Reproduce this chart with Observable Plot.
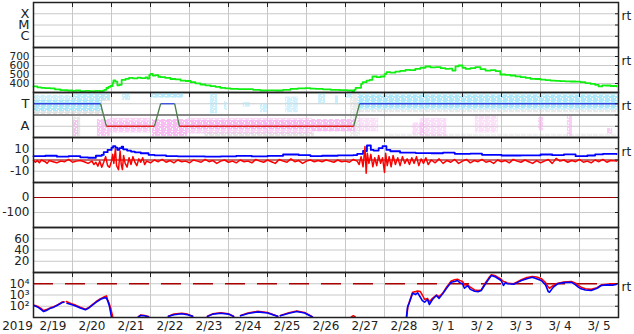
<!DOCTYPE html>
<html><head><meta charset="utf-8">
<script src="https://cdn.jsdelivr.net/npm/d3@7"></script>
<script src="https://cdn.jsdelivr.net/npm/@observablehq/plot@0.6"></script>
<style>
body{margin:0;background:#fff;}
#chart svg{display:block;overflow:visible;}
</style></head><body><div id="chart"></div>
<script>
// ---------- data (time = days after 2019-02-19 00:00 UTC) ----------
const dayLabels = ["2/19","2/20","2/21","2/22","2/23","2/24","2/25","2/26","2/27","2/28","3/ 1","3/ 2","3/ 3","3/ 4","3/ 5"];
const yearLabel = "2019";
const xrayTicks = [1e-6, 1e-5, 1e-4];
const xrayLabels = ["C", "M", "X"];
const speedTicks = [400, 500, 600, 700];
const sectorTicks = [1, 0, -1];
const sectorLabels = ["T", "", "A"];
const bTicks = [10, 0, -10];
const dstTicks = [0, -100];
const kpTicks = [20, 40, 60];
const fluxTicks = [1e2, 1e3, 1e4];
const fluxLabels = ["10²", "10³", "10⁴"];

const speed = [[0,367],[0.1,358],[0.2,352],[0.3,348],[0.44,345],[0.55,335],[0.69,326],[0.8,325],[0.87,322],[1.0,318],[1.08,322],[1.2,316],[1.33,318],[1.45,314],[1.59,318],[1.72,315],[1.78,320],[1.82,330],[1.87,350],[1.92,362],[1.97,372],[2.03,408],[2.05,435],[2.1,420],[2.15,380],[2.2,385],[2.26,440],[2.36,452],[2.45,462],[2.55,458],[2.67,466],[2.75,460],[2.87,468],[2.92,455],[2.97,495],[3.0,508],[3.06,488],[3.13,492],[3.2,475],[3.26,470],[3.38,462],[3.51,450],[3.64,446],[3.77,433],[3.9,428],[4.03,415],[4.15,402],[4.28,389],[4.41,380],[4.54,370],[4.67,362],[4.79,352],[4.92,345],[5.05,341],[5.25,338],[5.44,337],[5.63,330],[5.82,322],[6.0,324],[6.21,322],[6.4,330],[6.59,341],[6.78,345],[6.97,348],[7.1,343],[7.23,341],[7.42,335],[7.62,330],[7.85,326],[8.05,322],[8.18,315],[8.22,330],[8.26,352],[8.36,352],[8.4,395],[8.44,415],[8.54,433],[8.62,440],[8.69,478],[8.8,470],[8.9,478],[9.0,505],[9.05,526],[9.15,520],[9.28,533],[9.4,540],[9.54,552],[9.66,548],[9.79,563],[9.92,575],[10.05,589],[10.18,580],[10.31,581],[10.44,570],[10.56,563],[10.66,565],[10.74,544],[10.82,590],[10.9,600],[11.0,575],[11.08,563],[11.2,570],[11.33,581],[11.46,560],[11.59,544],[11.72,548],[11.85,537],[11.97,500],[12.1,495],[12.23,489],[12.36,480],[12.49,470],[12.62,462],[12.74,452],[12.87,450],[13.0,444],[13.13,438],[13.26,433],[13.38,430],[13.51,426],[13.64,424],[13.77,422],[13.9,420],[14.03,415],[14.15,405],[14.28,396],[14.4,385],[14.49,367],[14.58,380],[14.67,378],[14.8,372],[14.95,367]];

// sector polarity level: 1 = T (toward), -1 = A (away)
const sector = [[0,1],[1.72,1],[1.87,-1],[3.10,-1],[3.26,1],[3.62,1],[3.74,-1],[8.21,-1],[8.36,1],[15,1]];

// observed scatter clusters [day1, day2, low, high, density]
const cyanBlocks = [[0,1.77,0.3,1.3,0.9],[0,1.77,1.3,1.75,0.5],[1.03,1.97,1.3,1.9,0.6],[2.28,2.49,1.3,1.9,0.55],[3.0,3.85,1.5,1.9,0.75],[4.54,4.72,0.1,1.9,0.55],[4.9,4.97,0.4,1.2,0.55],[5.38,5.56,0.7,1.1,0.5],[5.82,6.0,0.2,1.0,0.5],[6.46,6.79,0.2,1.6,0.45],[7.31,7.49,1.0,1.9,0.55],[7.74,7.82,0.9,1.7,0.55],[8.0,8.18,1.5,1.9,0.55],[8.33,15,0.55,1.75,0.9],[8.33,15,0.4,0.55,0.5],[8.33,15,1.75,1.95,0.5]];
const pinkBlocks = [[1.03,1.15,-1.9,-0.5,0.65],[1.64,1.97,-1.9,-0.4,0.65],[1.97,3.0,-1.6,-0.3,0.5],[1.97,3.0,-1.3,-0.6,0.45],[3.05,3.95,-1.9,-0.4,0.8],[3.95,7.15,-1.3,-0.5,0.75],[3.95,7.15,-1.7,-0.3,0.45],[7.15,8.26,-1.5,-0.4,0.75],[8.33,8.85,-1.5,-0.3,0.3],[9.72,10.05,-1.8,-0.7,0.35],[9.92,10.6,-1.9,-0.3,0.35],[11.33,11.92,-1.6,-0.1,0.3],[12.95,13.08,-1.4,-0.2,0.55],[13.69,13.82,-1.9,-0.1,0.55],[14.72,14.85,-1.7,-1.2,0.6]];
const grayBlocks = [[0,1.77,-0.05,0.3,0.5],[1.03,1.21,-1.9,-0.2,0.4],[1.6,1.97,1.2,1.9,0.4],[8.13,8.38,-1.9,1.9,0.3],[4.4,7.2,-1.9,-1.6,0.45],[8.33,15,0.2,0.4,0.35],[9.0,15,-1.95,-1.7,0.2]];

const bt = [[0,3.4],[0.3,3.8],[0.6,3.0],[0.9,3.5],[1.2,2.4],[1.4,2.0],[1.6,3.8],[1.75,4.5],[1.8,7],[1.9,9],[2.0,11],[2.04,12.3],[2.1,11],[2.15,9],[2.2,10.5],[2.26,11.8],[2.3,9.5],[2.4,8.4],[2.5,7.5],[2.6,6.8],[2.75,6],[2.92,6.2],[2.95,4.6],[3.1,4.2],[3.4,3.5],[3.7,3.3],[4.0,3.2],[4.4,3.0],[4.8,3.3],[5.2,3.6],[5.6,3.2],[6.0,3.7],[6.4,4.9],[6.8,4.4],[7.1,3.5],[7.4,3.8],[7.8,4.2],[8.2,4.4],[8.3,5.5],[8.45,8],[8.55,12.9],[8.65,9],[8.72,8.4],[8.85,10.5],[8.95,12.3],[9.05,9],[9.15,7.8],[9.4,6.5],[9.8,6.2],[10.2,6.0],[10.5,6.6],[10.8,5.5],[11.2,5.6],[11.5,4.6],[12.0,4.0],[12.5,4.1],[13.0,4.9],[13.3,4.3],[13.6,5.0],[13.9,3.4],[14.2,4.0],[14.4,5.0],[14.6,5.5],[14.95,5.3]];
const bz = [[0,-0.5],[0.05,-2],[0.1,-0.5],[0.15,-2.5],[0.2,0],[0.3,-1.5],[0.35,-3],[0.4,-0.5],[0.5,-1.5],[0.6,-2.5],[0.7,-1],[0.8,-1.5],[0.9,0.5],[1.0,-2],[1.1,-1],[1.2,-0.5],[1.3,-1.5],[1.4,-3],[1.5,-1],[1.55,-4],[1.6,-2],[1.65,-5.5],[1.7,-1],[1.75,-6.5],[1.8,-2],[1.85,3],[1.9,-5],[1.95,-6.5],[2.0,-1],[2.03,5],[2.06,-3],[2.1,10],[2.13,-5],[2.18,-8.7],[2.22,8],[2.25,-4],[2.28,-8.5],[2.31,4],[2.35,-3],[2.4,-6.4],[2.45,2],[2.5,-4],[2.55,3],[2.6,-2],[2.65,-5],[2.7,1],[2.75,-2],[2.8,2],[2.85,-4],[2.9,-1],[3.0,-2.5],[3.1,0],[3.2,-1.5],[3.3,0.5],[3.4,-2],[3.5,-0.5],[3.6,-2.5],[3.7,0],[3.8,-1.5],[3.9,-1],[4.0,-2.5],[4.1,0],[4.2,-1],[4.3,-2],[4.4,0.5],[4.5,-1.5],[4.6,-0.5],[4.7,-3],[4.8,-1],[4.9,0],[5.0,-2],[5.1,-1],[5.2,-2.5],[5.3,0],[5.4,-1.5],[5.5,-1],[5.6,-2.5],[5.7,0.5],[5.8,-1],[5.9,-2],[6.0,0],[6.1,-1.5],[6.2,-3],[6.3,0.5],[6.4,-1],[6.5,-2],[6.6,1],[6.7,-1.5],[6.8,-0.5],[6.9,-3],[7.0,-1],[7.1,0],[7.2,-1.5],[7.3,-0.5],[7.4,-1.5],[7.5,0],[7.6,-1],[7.7,-2],[7.8,0],[7.9,-1.5],[8.0,-1],[8.1,-2],[8.2,0.5],[8.3,-1],[8.35,-4],[8.4,3],[8.45,-6],[8.5,12],[8.53,-11.7],[8.56,6],[8.6,-3],[8.65,5],[8.7,-6],[8.75,2],[8.8,-5],[8.85,4],[8.9,-3],[8.95,2],[9.0,-11],[9.03,6],[9.07,-5],[9.12,3],[9.17,-6],[9.22,4],[9.28,-4],[9.34,2],[9.4,-5],[9.46,3],[9.52,-3],[9.58,1],[9.64,-4],[9.7,2],[9.76,-3],[9.82,3],[9.88,-5],[9.94,1],[10.0,-3],[10.06,2],[10.12,-4],[10.2,0],[10.3,-2.5],[10.4,1],[10.5,-3],[10.6,-0.5],[10.7,-2],[10.8,0.5],[10.9,-3],[11.0,-1],[11.1,0.5],[11.2,-2.5],[11.3,-0.5],[11.4,-1.5],[11.5,0.5],[11.6,-2],[11.7,-1],[11.8,-3],[11.9,0],[12.0,-1.5],[12.1,-0.5],[12.2,-2.5],[12.3,0.5],[12.4,-1],[12.5,-2],[12.6,0],[12.7,-1.5],[12.8,-3],[12.9,-0.5],[13.0,-2.5],[13.1,-1],[13.2,0.5],[13.3,-3],[13.35,-1],[13.4,1.5],[13.5,-1],[13.6,0],[13.7,-2],[13.8,-0.5],[13.9,-1.5],[14.0,0.5],[14.1,-2],[14.2,-1],[14.3,-2.5],[14.4,0],[14.5,-1.5],[14.6,0.5],[14.7,-2],[14.8,-0.5],[14.95,-1]];

// particle flux, log10 values (null = gap)
const fluxBlue = [[0,2.07],[0.06,2.0],[0.13,1.88],[0.2,1.7],[0.26,1.53],[0.33,1.62],[0.44,1.83],[0.52,1.92],[0.59,2.05],[0.67,2.2],[0.74,2.34],[0.78,2.36],[0.82,null],[0.86,2.27],[0.97,2.15],[1.08,2.03],[1.2,1.85],[1.33,1.68],[1.42,1.85],[1.51,2.1],[1.6,2.35],[1.72,2.62],[1.82,2.76],[1.87,2.72],[1.9,2.5],[1.94,2.1],[1.97,1.6],[2.0,1.0],[2.02,null],[2.69,1.05],[2.75,1.18],[2.85,1.15],[2.95,1.05],[2.97,null],[3.46,1.1],[3.6,1.25],[3.8,1.33],[3.95,1.25],[4.08,1.1],[4.1,null],[4.46,1.1],[4.6,1.3],[4.8,1.38],[5.0,1.3],[5.13,1.1],[5.15,null],[5.31,1.15],[5.5,1.35],[5.75,1.5],[6.0,1.4],[6.26,1.1],[6.28,null],[6.33,1.15],[6.55,1.38],[6.75,1.53],[6.95,1.4],[7.15,1.05],[7.17,null],[9.56,1.0],[9.59,1.9],[9.64,2.36],[9.72,3.16],[9.8,3.05],[9.85,3.2],[9.92,2.8],[9.97,2.5],[10.03,2.36],[10.1,2.6],[10.15,2.16],[10.23,2.6],[10.33,2.96],[10.4,2.7],[10.49,3.1],[10.59,3.6],[10.71,4.14],[10.8,4.2],[10.87,4.29],[10.93,4.1],[11.0,4.0],[11.05,3.6],[11.13,3.84],[11.2,3.5],[11.31,3.34],[11.4,3.3],[11.48,3.4],[11.59,4.0],[11.67,4.4],[11.74,4.73],[11.85,4.6],[11.99,4.29],[12.05,3.85],[12.1,4.1],[12.15,4.0],[12.31,3.95],[12.4,4.1],[12.51,4.29],[12.65,4.45],[12.79,4.58],[12.9,4.45],[13.02,4.29],[13.13,3.9],[13.2,3.3],[13.23,3.25],[13.33,3.7],[13.44,4.0],[13.6,4.1],[13.79,4.14],[13.9,3.9],[13.97,3.7],[14.04,3.55],[14.15,3.45],[14.3,3.4],[14.45,3.6],[14.56,3.84],[14.7,3.9],[14.85,3.88],[14.94,3.93]];
const fluxRed = [[0,2.1],[0.06,2.05],[0.13,1.95],[0.2,1.78],[0.26,1.62],[0.33,1.7],[0.44,1.88],[0.52,1.95],[0.59,2.08],[0.67,2.22],[0.74,2.38],[0.78,2.4],[0.82,null],[0.84,2.42],[0.97,2.22],[1.08,2.1],[1.2,1.92],[1.33,1.74],[1.42,1.9],[1.51,2.15],[1.6,2.4],[1.72,2.68],[1.82,2.85],[1.87,2.92],[1.9,2.6],[1.94,2.25],[1.98,1.8],[2.03,1.1],[2.05,null],[2.69,1.08],[2.75,1.22],[2.85,1.18],[2.95,1.08],[2.97,null],[3.46,1.12],[3.6,1.3],[3.8,1.38],[3.95,1.3],[4.08,1.12],[4.1,null],[4.46,1.12],[4.6,1.33],[4.8,1.42],[5.0,1.33],[5.13,1.12],[5.15,null],[5.31,1.18],[5.5,1.4],[5.75,1.55],[6.0,1.45],[6.26,1.12],[6.28,null],[6.33,1.18],[6.55,1.42],[6.75,1.57],[6.95,1.45],[7.15,1.08],[7.17,null],[8.15,1.05],[8.2,1.15],[8.25,1.05],[8.27,null],[9.57,1.0],[9.6,2.0],[9.65,2.5],[9.72,3.25],[9.8,3.3],[9.85,3.35],[9.92,3.3],[9.97,3.0],[10.03,2.6],[10.1,2.7],[10.15,2.4],[10.23,2.7],[10.33,3.0],[10.4,2.85],[10.49,3.15],[10.59,3.7],[10.71,4.25],[10.8,4.35],[10.87,4.4],[10.93,4.3],[11.0,4.2],[11.05,3.9],[11.13,3.9],[11.2,3.7],[11.31,3.45],[11.4,3.4],[11.48,3.45],[11.59,4.1],[11.67,4.5],[11.74,4.8],[11.85,4.7],[11.99,4.4],[12.05,4.2],[12.1,4.15],[12.15,4.05],[12.31,4.0],[12.4,4.15],[12.51,4.35],[12.65,4.55],[12.79,4.65],[12.9,4.6],[13.02,4.45],[13.13,4.1],[13.2,3.7],[13.23,3.6],[13.33,3.85],[13.44,4.05],[13.6,4.15],[13.79,4.2],[13.9,4.05],[13.97,3.85],[14.04,3.7],[14.15,3.55],[14.3,3.5],[14.45,3.65],[14.56,3.9],[14.7,3.95],[14.85,4.0],[14.94,3.95]];
const fluxThreshold = 1e4;

// ---------- rendering ----------
const T0 = Date.UTC(2019, 1, 19);
const day = d => new Date(T0 + d * 864e5);
const dayTicks = d3.range(0, 16).map(day);
const innerDays = dayTicks.slice(1, -1);
const FONT = "DejaVu Sans";

function panel({height, marginTop = 0, marginBottom = 0, y, ticks, labels, rt, marks = [], extra = [], labelSize = 12}) {
  const fmt = labels ? (d) => labels[ticks.indexOf(d)] : (d) => String(d);
  return Plot.plot({
    width: 634, height, marginLeft: 33, marginRight: 16, marginTop, marginBottom,
    x: {type: "utc", domain: [day(0), day(15)], axis: null},
    y: {...y, axis: null, label: null},
    style: {fontFamily: FONT, fontSize: "11px", overflow: "visible", background: "transparent", color: "#222"},
    marks: [
      Plot.ruleX(innerDays, {stroke: "#c8c8c8", strokeWidth: 1}),
      Plot.ruleY(ticks, {stroke: "#c8c8c8", strokeWidth: 1}),
      ...marks,
      Plot.axisY(ticks, {anchor: "left", label: null, tickSize: 0, tickPadding: 4, tickFormat: fmt, fontSize: labelSize, fill: "#222"}),
      Plot.axisY(ticks, {anchor: "right", label: null, tickSize: -4, tickFormat: () => "", stroke: "#222"}),
      Plot.axisX(innerDays, {anchor: "top", label: null, tickSize: -4, tickFormat: () => "", stroke: "#222"}),
      Plot.frame({stroke: "#222", strokeWidth: 1.5}),
      rt ? Plot.text(["rt"], {frameAnchor: "top-right", dx: 3, dy: rt, textAnchor: "start", fontSize: 12, fill: "#222"}) : null,
      ...extra
    ]
  });
}

const chart = document.getElementById("chart");

// 1: X-ray class
chart.append(panel({height: 47, marginTop: 2, y: {type: "log", domain: [1e-7, 1e-3]}, ticks: xrayTicks, labels: xrayLabels, rt: 9, labelSize: 13}));

// 2: solar wind speed
chart.append(panel({height: 45, y: {domain: [300, 800]}, ticks: speedTicks, rt: 9, labelSize: 10.5,
  marks: [Plot.line(speed, {x: d => day(d[0]), y: d => d[1], stroke: "#11ee11", strokeWidth: 1.8, curve: "step-after"})]}));

// 3: sector (T / A)
const blockMark = (arr, pat) => Plot.rect(arr, {x1: d => day(d[0]), x2: d => day(d[1]), y1: d => d[2], y2: d => d[3], fill: `url(#${pat})`, fillOpacity: d => Math.min(1, d[4] + 0.1)});
const sectorLinks = d3.pairs(sector).map(([a, b]) => ({a, b, c: a[1] !== b[1] ? "#4a7f4a" : (a[1] > 0 ? "#3344dd" : "#dd2222")}));
const sectorSvg = panel({height: 45, y: {domain: [-2, 2]}, ticks: sectorTicks, labels: sectorLabels, rt: 9, labelSize: 13,
  marks: [
    blockMark(grayBlocks, "patGray"),
    blockMark(cyanBlocks, "patCyan"),
    blockMark(pinkBlocks, "patPink"),
    Plot.ruleY([0], {stroke: "#6a6a6a", strokeWidth: 1.5}),
    Plot.link(sectorLinks, {x1: d => day(d.a[0]), y1: d => d.a[1], x2: d => day(d.b[0]), y2: d => d.b[1], stroke: d => d.c, strokeWidth: 1.3})
  ]});
// speckle texture (about 80% coverage) for the scatter clusters
const speckle = c => [[0,0,4,3],[5,0,1,4],[0,3,2,3],[3,4,3,2],[2,3,1,2],[4,2,1,1]]
  .map(([x, y, w, h]) => `<rect x="${x}" y="${y}" width="${w}" height="${h}" fill="${c}"/>`).join("");
d3.select(sectorSvg).insert("defs", ":first-child").html(
  [["patCyan", "#aee8fb"], ["patPink", "#f7b6f1"], ["patGray", "#cfcfcf"]].map(([id, c]) =>
    `<pattern id="${id}" patternUnits="userSpaceOnUse" width="6" height="6">${speckle(c)}</pattern>`).join(""));
chart.append(sectorSvg);

// 4: IMF Bt / Bz
chart.append(panel({height: 45, y: {domain: [-20, 20]}, ticks: bTicks, rt: 10,
  marks: [
    Plot.ruleY([0], {stroke: "#a00000", strokeWidth: 1.2}),
    Plot.line(bt, {x: d => day(d[0]), y: d => d[1], stroke: "#0000ff", strokeWidth: 1.8, curve: "step-after"}),
    Plot.line(bz, {x: d => day(d[0]), y: d => d[1], stroke: "#ff0000", strokeWidth: 1.5})
  ]}));

// 5: Dst
chart.append(panel({height: 45, y: {domain: [-200, 100]}, ticks: dstTicks,
  marks: [Plot.ruleY([0], {stroke: "#a00000", strokeWidth: 1.2})]}));

// 6: empty index panel
chart.append(panel({height: 45, y: {domain: [0, 80]}, ticks: kpTicks}));

// 7: particle flux (log)
const toFlux = arr => arr.map(([d, v]) => ({t: day(d), f: v == null ? null : 10 ** v}));
chart.append(panel({height: 62, marginBottom: 17, y: {type: "log", domain: [10, 1e5]}, ticks: fluxTicks, labels: fluxLabels, rt: 10, labelSize: 12,
  marks: [
    Plot.ruleY([fluxThreshold], {stroke: "#aa0000", strokeWidth: 1.5, strokeDasharray: "20,12"}),
    Plot.line(toFlux(fluxRed), {x: "t", y: "f", stroke: "#ff0000", strokeWidth: 1.6, clip: true}),
    Plot.line(toFlux(fluxBlue), {x: "t", y: "f", stroke: "#0000ff", strokeWidth: 1.6, clip: true})
  ],
  extra: [
    Plot.text(dayLabels, {x: (d, i) => day(i + 0.5), frameAnchor: "bottom", lineAnchor: "top", dy: 4, fontSize: 12, fill: "#222"}),
    Plot.text([yearLabel], {frameAnchor: "bottom-left", dx: -16, textAnchor: "middle", lineAnchor: "top", dy: 4, fontSize: 12, fill: "#222"})
  ]}));
</script></body></html>
